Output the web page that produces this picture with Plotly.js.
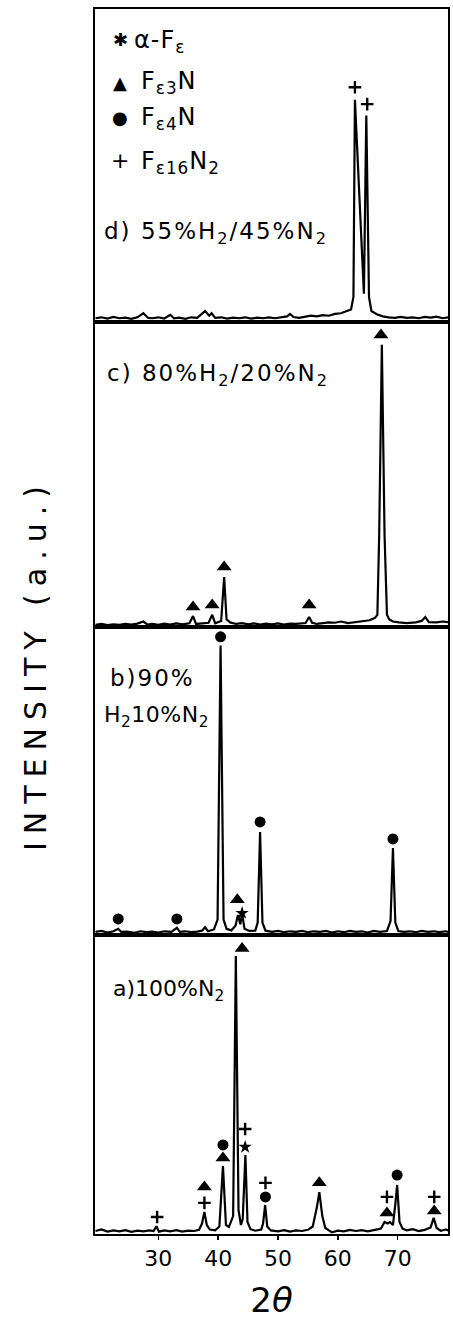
<!DOCTYPE html>
<html>
<head>
<meta charset="utf-8">
<script src="https://cdn.plot.ly/plotly-3.0.1.min.js"></script>
<style>html,body{margin:0;padding:0;background:#fff;}</style>
</head>
<body>
<div id="chart" style="width:453px;height:1326px;"></div>
<script>
// ---- data (2θ in degrees, intensity in % of panel height) ----
const aX = [19.5,20.5,21.5,22.5,23.5,24.5,25.5,26.5,27.5,28.5,29.2,29.7,30.1,31,32,33,34,35,36,36.8,37.3,37.7,38.1,38.6,39.5,40.2,40.8,41.3,41.8,42.5,42.95,43.4,43.8,44.1,44.55,44.9,45.4,46.2,47.2,47.5,47.85,48.2,48.8,50,51,52,53,54,55,55.8,56.5,56.9,57.4,57.9,58.5,59,60,61,62,63,64,65,66,67.2,67.8,68.3,68.7,69.2,69.6,69.9,70.3,70.8,71.5,72.5,73.5,74.5,75.5,76.0,76.5,77.2,78,78.5];
const aY = [1.0,1.5,0.8,1.2,0.9,1.3,0.7,1.1,0.9,1.2,1.0,2.6,0.8,1.2,0.9,1.3,0.8,1.1,1.0,1.4,3.5,7.4,3.0,1.5,1.2,2.5,22.7,3.0,2.4,6,93,8,3,5,26.4,4,1.6,1.1,1.5,3.5,9.7,2.5,1.2,0.9,1.3,0.8,1.2,1.0,1.4,2.5,9,14,6,2.0,1.2,0.6,1.1,0.9,1.4,1.0,1.3,0.9,1.3,1.8,4.0,3.5,4.0,3.0,10,16.4,4,1.8,1.2,1.6,1.0,1.4,2.2,5.4,2.0,1.1,1.5,1.2];

const bX = [19.5,20.5,21.5,22.5,23.3,23.8,24.8,26,27,28,29,30,31,32.2,33.1,33.6,34.5,35.5,36.5,37.3,37.8,38.3,39.3,39.9,40.4,40.9,41.4,42.2,42.9,43.3,43.7,44.0,44.4,45.2,46.2,46.6,47.0,47.4,47.9,49,50,51,52,53,54,55,56,57,58,59,60,61,62,63,64,65,66,67,68.2,68.8,69.2,69.6,70.1,71,72,73,74,75,76,77,78,78.5];
const bY = [1.0,1.3,0.8,1.2,2.0,1.0,1.1,0.7,1.2,0.9,1.1,0.8,1.2,1.0,2.3,1.0,1.2,0.9,1.1,1.4,2.5,1.2,1.8,5,94,5,2,1.5,3,6.5,3.5,7,2,1.3,1.4,4,33.4,4,1.4,1.0,1.3,0.9,1.2,1.0,1.3,0.9,1.2,1.0,1.3,0.8,1.2,0.9,1.3,1.0,1.2,0.8,1.3,1.0,1.3,4.5,28.2,4,1.3,1.0,1.2,0.9,1.3,1.0,1.2,0.9,1.2,1.0];

const cX = [19.5,20.5,21.5,22.5,23.5,24.5,25.5,26.5,27.5,28.2,29,30,31,32,33,34,35.2,35.8,36.3,37,38.4,39.0,39.5,40.5,41.0,41.4,42,43,44,45,46,47,48,49,50,51,52,53,54.6,55.2,55.7,56.5,57.5,58.5,59.5,60.5,61.7,63,64.5,65.3,66.2,66.6,66.9,67.35,67.8,68.2,68.6,69.2,70.2,71.5,73,74,74.6,75.2,76.5,77.5,78.5];
const cY = [0.7,1.0,0.6,0.9,0.7,1.0,0.8,1.1,1.8,0.8,1.0,0.7,1.1,0.8,1.2,0.9,1.2,3.6,1.0,1.2,1.4,4,1.2,2.0,16.4,2.5,1.5,1.0,1.3,0.9,1.2,0.8,1.1,0.9,1.2,0.8,1.1,1.0,1.3,3.3,1.4,1.0,1.3,1.5,1.4,1.8,1.3,1.6,1.8,2.2,3.0,4.0,30,92.5,30,4.0,2.5,1.8,1.5,1.3,1.5,2.0,3.3,1.6,1.5,1.8,1.6];

const dX = [19.5,20.5,21.5,22.5,23.5,24.5,25.5,26.5,27.5,28.3,29,30,31,32,32.6,33.5,34.5,35.5,36.5,37.8,38.5,38.9,39.5,40.5,41.5,42.5,43.5,44.5,45.5,46.5,47.5,48.5,49.5,50.5,51.5,52,52.6,53.5,54.5,55.5,56.5,57.5,58.5,59.5,60.5,61.5,62.2,62.6,62.85,64.35,64.75,65.2,65.6,66.5,67.5,68.5,69.5,70.5,71.5,72.5,73.5,74.5,75.5,76.5,77.5,78.5];
const dY = [1.2,1.5,1.1,1.6,1.2,1.4,1.0,1.5,2.8,1.3,1.2,1.5,1.1,2.3,1.2,1.4,1.0,1.5,1.3,3.5,2.0,2.8,1.3,1.5,1.1,1.4,1.2,1.5,1.1,1.4,1.2,1.5,1.2,1.4,1.8,2.6,1.6,1.3,1.6,2.0,1.8,2.2,2.0,2.6,2.8,3.5,4.0,8,71,9,66,8,3.5,2.5,1.8,1.5,1.3,1.6,1.3,1.5,1.2,1.6,1.4,1.7,1.2,1.5];

// phase markers: tri = Fe3N, dot = Fe4N, plus = Fe16N2, star = alpha-Fe
const aMarkX = [29.8,37.7,37.7,40.8,40.8,44.0,44.5,44.5,47.9,47.9,56.9,68.2,68.2,69.9,76.1,76.1];
const aMarkY = [5.7,10.4,15.7,25.4,29.8,95.5,29.1,35.1,12.4,17.1,17.1,7.0,12.4,19.7,7.7,12.4];
const aMarkS = ['plus','plus','tri','tri','dot','tri','star','plus','dot','plus','tri','tri','plus','dot','tri','plus'];
const bMarkX = [23.3,33.1,40.4,43.2,44.0,47.0,69.2];
const bMarkY = [5.2,5.2,96.8,11.4,7.1,36.7,31.2];
const bMarkS = ['dot','dot','dot','tri','star','dot','dot'];
const cMarkX = [35.8,39.0,41.0,55.2,67.2];
const cMarkY = [6.6,7.2,19.7,7.2,95.7];
const cMarkS = ['tri','tri','tri','tri','tri'];
const dMarkX = [62.85,64.9];
const dMarkY = [75,69.6];
const dMarkS = ['plus','plus'];

const panelLabels = ['a)100%N<sub>2</sub>', 'b)90%', 'H<sub>2</sub>10%N<sub>2</sub>', 'c) 80%H<sub>2</sub>/20%N<sub>2</sub>', 'd) 55%H<sub>2</sub>/45%N<sub>2</sub>'];
const legendSymbols = ['✱', '▲', '●', '+'];
const legendLabels = ['α-F<sub>ε</sub>', 'F<sub>ε3</sub>N', 'F<sub>ε4</sub>N', 'F<sub>ε16</sub>N<sub>2</sub>'];
const xTicks = [30,40,50,60,70];

// ---- build ----
const FONT = 'DejaVu Sans, sans-serif';
const symMap = {tri:'triangle-up', dot:'circle', plus:'cross-thin', star:'star'};
const sizeMap = {tri:13, dot:11, plus:9, star:10};

function lineTrace(x, y, n) {
  return {x:x, y:y, xaxis: n===1?'x':'x'+n, yaxis: n===1?'y':'y'+n, mode:'lines',
    line:{color:'#000', width:2.2}, hoverinfo:'skip'};
}
function markTrace(x, y, s, n) {
  return {x:x, y:y, xaxis: n===1?'x':'x'+n, yaxis: n===1?'y':'y'+n, mode:'markers', cliponaxis:false,
    marker:{color:'#000', opacity:1, symbol:s.map(k=>symMap[k]), size:s.map(k=>sizeMap[k]),
      line:{color:'#000', width:s.map(k=>k==='plus'?2.4:0)}}, hoverinfo:'skip'};
}

const data = [
  lineTrace(aX,aY,1), lineTrace(bX,bY,2), lineTrace(cX,cY,3), lineTrace(dX,dY,4),
  markTrace(aMarkX,aMarkY,aMarkS,1), markTrace(bMarkX,bMarkY,bMarkS,2),
  markTrace(cMarkX,cMarkY,cMarkS,3), markTrace(dMarkX,dMarkY,dMarkS,4)
];

const doms = [[0,0.2441],[0.2441,0.4955],[0.4955,0.7445],[0.7445,1]];
const layout = {
  width:453, height:1326,
  margin:{l:95, r:5, t:9, b:92},
  paper_bgcolor:'#fff', plot_bgcolor:'#fff',
  showlegend:false,
  font:{family:FONT, color:'#000'},
  annotations:[]
};
for (let i=1;i<=4;i++){
  const xk = i===1?'xaxis':'xaxis'+i, yk = i===1?'yaxis':'yaxis'+i;
  layout[xk] = {
    domain:[0,1], anchor: i===1?'y':'y'+i, range:[19.42,78.4],
    showline:true, linewidth:2, linecolor:'#000', mirror:true,
    showgrid:false, zeroline:false, fixedrange:true,
    tickvals:xTicks, ticktext:xTicks.map(String),
    showticklabels: i===1, ticks: i===1?'outside':'', ticklen:4, tickwidth:1.5, tickcolor:'#000',
    tickfont:{family:FONT, size:22, color:'#000'}
  };
  if (i>1) layout[xk].matches = 'x';
  layout[yk] = {
    domain:doms[i-1], anchor: i===1?'x':'x'+i, range:[0,100],
    showline:true, linewidth:2, linecolor:'#000', mirror:true,
    showgrid:false, zeroline:false, showticklabels:false, ticks:'', fixedrange:true
  };
}
layout.xaxis.title = {text:'2<i>θ</i>', font:{family:FONT, size:34, color:'#000'}, standoff:18};

const px = v => (v-95)/353;
const py = v => (1234-v)/1225;
const lab = (t, xl, yc, sz, ls) => ({text:'<span style="letter-spacing:'+ls+'px">'+t+'</span>', xref:'paper', yref:'paper', x:px(xl), y:py(yc),
  xanchor:'left', yanchor:'middle', showarrow:false, font:{family:FONT, size:sz, color:'#000'}});
layout.annotations.push(lab(panelLabels[0], 111, 990, 22, 0));
layout.annotations.push(lab(panelLabels[1], 108, 678, 23, 2));
layout.annotations.push(lab(panelLabels[2], 102, 716, 22, 0.5));
layout.annotations.push(lab(panelLabels[3], 105, 375, 23, 2));
layout.annotations.push(lab(panelLabels[4], 102, 233, 23, 2));
const legY = [42, 82, 119, 162];
const legSz = [18, 18, 18, 22];
const legSymY = [40, 83, 118, 160];
for (let i=0;i<4;i++){
  layout.annotations.push({text:legendSymbols[i], xref:'paper', yref:'paper', x:px(120), y:py(legSymY[i]),
    xanchor:'center', yanchor:'middle', showarrow:false, font:{family:FONT, size:legSz[i], color:'#000'}});
  layout.annotations.push(lab(legendLabels[i], i===0?132:139, legY[i], 24, 1));
}
layout.annotations.push({text:'<span style="letter-spacing:8px">INTENSITY (a.u.)</span>', xref:'paper', yref:'paper',
  x:px(35), y:py(665), textangle:-90, showarrow:false, xanchor:'center', yanchor:'middle',
  font:{family:FONT, size:30, color:'#000'}});

Plotly.newPlot('chart', data, layout, {staticPlot:true, displayModeBar:false});
</script>
</body>
</html>
